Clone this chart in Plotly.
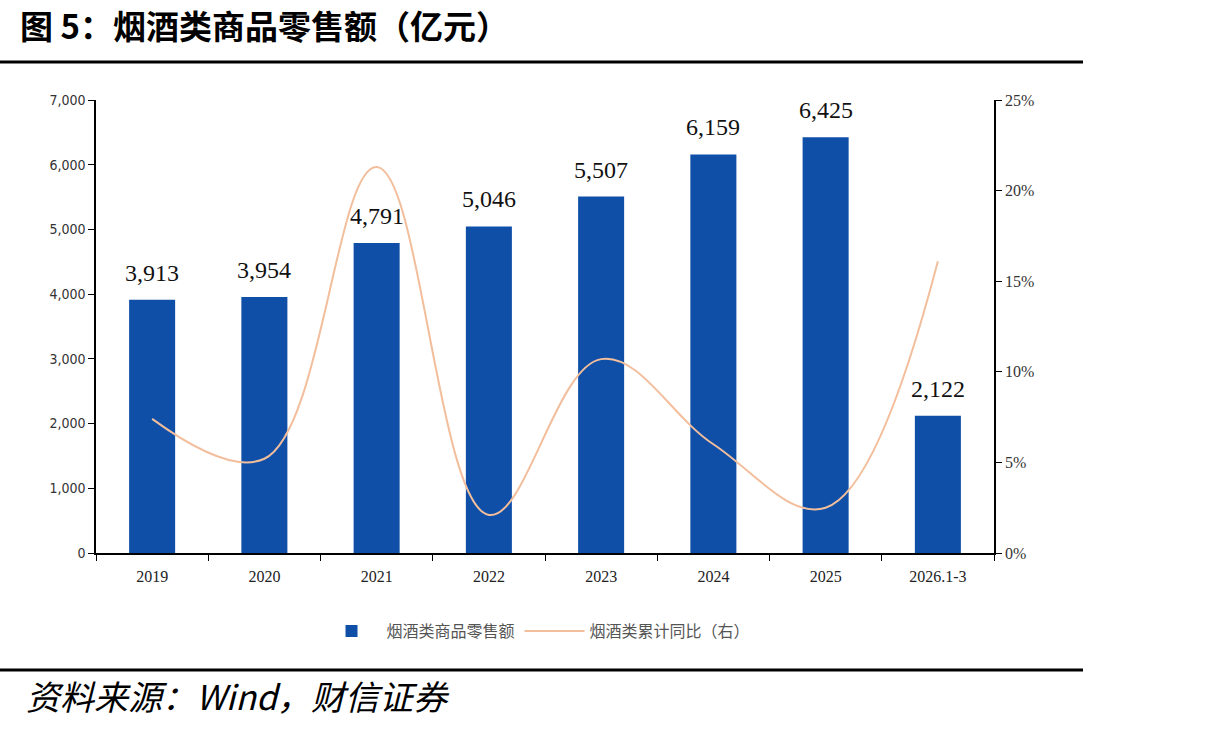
import plotly.graph_objects as go

categories = ["2019", "2020", "2021", "2022", "2023", "2024", "2025", "2026.1-3"]
sales = [3913, 3954, 4791, 5046, 5507, 6159, 6425, 2122]
yoy = [7.4, 5.2, 21.3, 2.1, 10.7, 6.0, 2.5, 16.1]
left_ticks = [0, 1000, 2000, 3000, 4000, 5000, 6000, 7000]
right_ticks = [0, 5, 10, 15, 20, 25]

BAR = "#0F4FA8"
LINE = "#F2BE9C"
SERIF = "Liberation Serif, Times New Roman, serif"
CJK = "Noto Sans CJK SC"

fig = go.Figure()
fig.add_trace(go.Bar(
    x=categories, y=sales, name="烟酒类商品零售额",
    marker=dict(color=BAR, line=dict(width=0)), width=0.41,
))
fig.add_trace(go.Scatter(
    x=categories, y=yoy, name="烟酒类累计同比（右）", yaxis="y2",
    mode="lines", line=dict(color=LINE, width=2, shape="spline", smoothing=1.1),
))

for i, v in enumerate(sales):
    fig.add_annotation(x=i, y=v, xref="x", yref="y", text=f"{v:,}", showarrow=False,
                       yanchor="bottom", yshift=12,
                       font=dict(family=SERIF, size=24, color="#111111"))

fig.update_layout(
    width=1217, height=730,
    paper_bgcolor="white", plot_bgcolor="white",
    margin=dict(l=96, r=223, t=100, b=177),
    showlegend=True,
    legend=dict(orientation="h", x=0.49, xanchor="center", y=-0.135, yanchor="top",
                itemwidth=60,
                font=dict(family=CJK, size=16, color="#555555"), traceorder="normal"),
    xaxis=dict(type="category", showline=True, linecolor="black", linewidth=1.5,
               ticks="outside", tickson="boundaries", ticklen=6, tickcolor="black",
               ticklabelstandoff=8,
               tickfont=dict(family=SERIF, size=16, color="#222222"), showgrid=False),
    yaxis=dict(range=[0, 7000], tickvals=left_ticks, tickformat=",", showline=True,
               linecolor="black", linewidth=1.5, ticks="outside", ticklen=6, tickcolor="black",
               tickfont=dict(family="DejaVu Sans Condensed, DejaVu Sans", size=14, color="#333333"),
               showgrid=False, zeroline=False),
    yaxis2=dict(range=[0, 25], tickvals=right_ticks, ticktext=[f"{t}%" for t in right_ticks],
                overlaying="y", side="right",
                showline=True, linecolor="black", linewidth=1.5, ticks="outside", ticklen=6,
                tickcolor="black", tickfont=dict(family=SERIF, size=16, color="#333333"),
                showgrid=False, zeroline=False),
    bargap=0.59,
)

fig.add_annotation(text="<b>图 5：烟酒类商品零售额（亿元）</b>", xref="paper", yref="paper",
                   x=-96/898, xanchor="left", y=1 + 75/453, yanchor="middle", showarrow=False,
                   xshift=18, font=dict(family=CJK, size=33, color="black"))
fig.add_annotation(text="<i>资料来源：Wind，财信证券</i>", xref="paper", yref="paper",
                   x=-96/898, xanchor="left", y=-(695-553)/453, yanchor="middle", showarrow=False,
                   xshift=24, font=dict(family=CJK, size=34, color="black"))
fig.add_shape(type="line", xref="paper", yref="paper", x0=-96/898, x1=(1083-96)/898,
              y0=1 + (100-62)/453, y1=1 + (100-62)/453, line=dict(color="black", width=3))
fig.add_shape(type="line", xref="paper", yref="paper", x0=-96/898, x1=(1083-96)/898,
              y0=-(670-553)/453, y1=-(670-553)/453, line=dict(color="black", width=3))

fig.write_html("out.html")
